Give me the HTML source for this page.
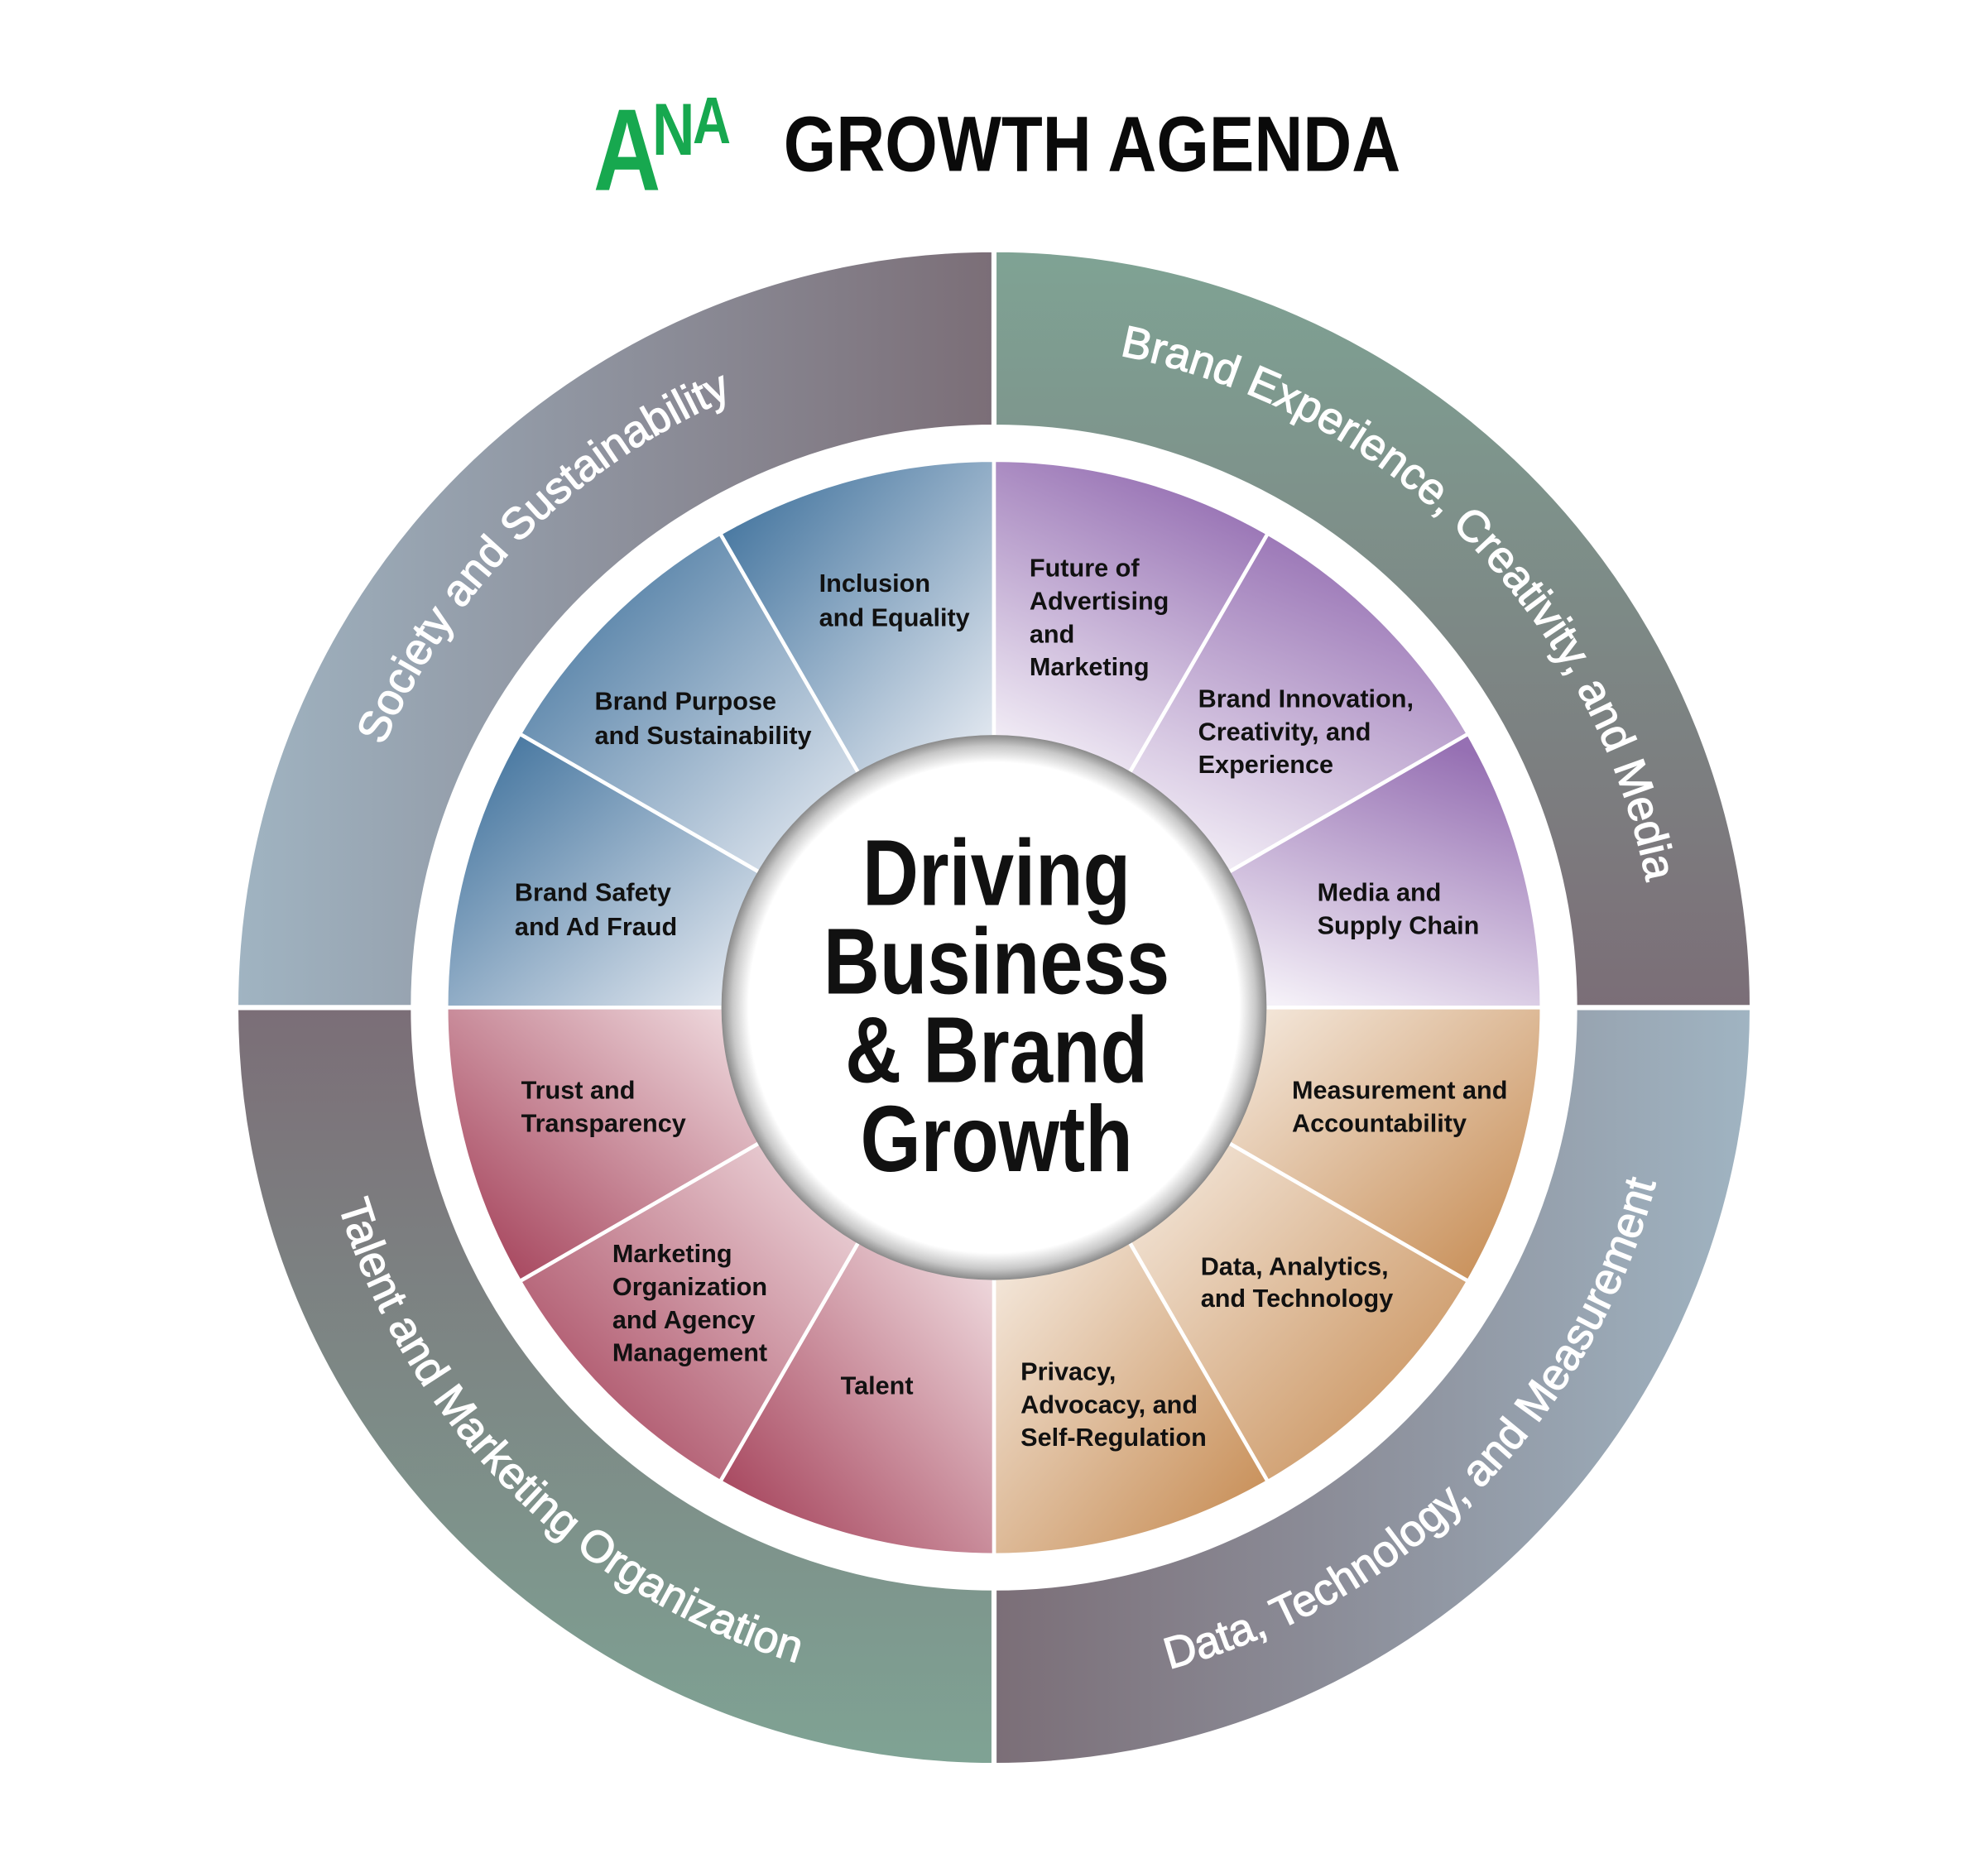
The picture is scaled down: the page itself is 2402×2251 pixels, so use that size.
<!DOCTYPE html>
<html><head><meta charset="utf-8"><style>
html,body{margin:0;padding:0;background:#fff;}
svg{display:block;}
</style></head><body>
<svg width="2402" height="2251" viewBox="0 0 1568 1470" preserveAspectRatio="none" xmlns="http://www.w3.org/2000/svg">
<defs>
<linearGradient id="qTL" x1="0" y1="0" x2="1" y2="0"><stop offset="0" stop-color="#a0b4c2"/><stop offset="1" stop-color="#7b6e77"/></linearGradient>
<linearGradient id="qTR" x1="0" y1="0" x2="0" y2="1"><stop offset="0" stop-color="#7fa394"/><stop offset="1" stop-color="#7b6e77"/></linearGradient>
<linearGradient id="qBL" x1="0" y1="0" x2="0" y2="1"><stop offset="0" stop-color="#7b6e77"/><stop offset="1" stop-color="#7fa394"/></linearGradient>
<linearGradient id="qBR" x1="0" y1="0" x2="1" y2="0"><stop offset="0" stop-color="#7b6e77"/><stop offset="1" stop-color="#a0b4c2"/></linearGradient>
<linearGradient id="gB" x1="0" y1="0" x2="1" y2="1"><stop offset="0" stop-color="#356a97"/><stop offset="1" stop-color="#eceff5"/></linearGradient>
<linearGradient id="gP" x1="0.6" y1="0" x2="0.2" y2="1"><stop offset="0" stop-color="#9670b3"/><stop offset="1" stop-color="#f5f1f8"/></linearGradient>
<linearGradient id="gO" x1="0" y1="0" x2="1" y2="1"><stop offset="0" stop-color="#f6ece2"/><stop offset="1" stop-color="#c4874c"/></linearGradient>
<linearGradient id="gR" x1="1" y1="0" x2="0" y2="1"><stop offset="0" stop-color="#f3e2e5"/><stop offset="1" stop-color="#9f3650"/></linearGradient>
<radialGradient id="gC" cx="0.5" cy="0.5" r="0.5"><stop offset="0.9" stop-color="#ffffff"/><stop offset="0.96" stop-color="#c8c8c8"/><stop offset="1" stop-color="#8a8a8a"/></radialGradient>
<path id="aTL" d="M 277.9 659.4 A 524 524 0 0 1 648.4 288.9"/>
<path id="aTR" d="M 784 271 A 524 524 0 0 1 1308 795"/>
<path id="aBL" d="M 244 795 A 540 540 0 0 0 784 1335"/>
<path id="aBR" d="M 784 1335 A 540 540 0 0 0 1324 795"/>
</defs>

<g stroke="#fff" stroke-width="4">
<path d="M 186 795 A 598 598 0 0 1 784 197 L 784 337 A 458 458 0 0 0 326 795 Z" fill="url(#qTL)"/>
<path d="M 784 197 A 598 598 0 0 1 1382 795 L 1242 795 A 458 458 0 0 0 784 337 Z" fill="url(#qTR)"/>
<path d="M 1382 795 A 598 598 0 0 1 784 1393 L 784 1253 A 458 458 0 0 0 1242 795 Z" fill="url(#qBR)"/>
<path d="M 784 1393 A 598 598 0 0 1 186 795 L 326 795 A 458 458 0 0 0 784 1253 Z" fill="url(#qBL)"/>
</g>

<g stroke="#fff" stroke-width="3">
<path fill="url(#gB)" d="M352.0,795.0 A432,432 0 0 1 409.9,579.0 L602.1,690.0 A210,210 0 0 0 574.0,795.0 Z"/>
<path fill="url(#gB)" d="M409.9,579.0 A432,432 0 0 1 568.0,420.9 L679.0,613.1 A210,210 0 0 0 602.1,690.0 Z"/>
<path fill="url(#gB)" d="M568.0,420.9 A432,432 0 0 1 784.0,363.0 L784.0,585.0 A210,210 0 0 0 679.0,613.1 Z"/>
<path fill="url(#gP)" d="M784.0,363.0 A432,432 0 0 1 1000.0,420.9 L889.0,613.1 A210,210 0 0 0 784.0,585.0 Z"/>
<path fill="url(#gP)" d="M1000.0,420.9 A432,432 0 0 1 1158.1,579.0 L965.9,690.0 A210,210 0 0 0 889.0,613.1 Z"/>
<path fill="url(#gP)" d="M1158.1,579.0 A432,432 0 0 1 1216.0,795.0 L994.0,795.0 A210,210 0 0 0 965.9,690.0 Z"/>
<path fill="url(#gO)" d="M1216.0,795.0 A432,432 0 0 1 1158.1,1011.0 L965.9,900.0 A210,210 0 0 0 994.0,795.0 Z"/>
<path fill="url(#gO)" d="M1158.1,1011.0 A432,432 0 0 1 1000.0,1169.1 L889.0,976.9 A210,210 0 0 0 965.9,900.0 Z"/>
<path fill="url(#gO)" d="M1000.0,1169.1 A432,432 0 0 1 784.0,1227.0 L784.0,1005.0 A210,210 0 0 0 889.0,976.9 Z"/>
<path fill="url(#gR)" d="M784.0,1227.0 A432,432 0 0 1 568.0,1169.1 L679.0,976.9 A210,210 0 0 0 784.0,1005.0 Z"/>
<path fill="url(#gR)" d="M568.0,1169.1 A432,432 0 0 1 409.9,1011.0 L602.1,900.0 A210,210 0 0 0 679.0,976.9 Z"/>
<path fill="url(#gR)" d="M409.9,1011.0 A432,432 0 0 1 352.0,795.0 L574.0,795.0 A210,210 0 0 0 602.1,900.0 Z"/>
</g>

<circle cx="784" cy="795" r="215" fill="url(#gC)"/>

<g fill="#fff" font-family="'Liberation Sans',sans-serif" font-size="35" text-anchor="middle" stroke="#fff" stroke-width="0.8">
<text><textPath href="#aTL" startOffset="50%">Society and Sustainability</textPath></text>
<text><textPath href="#aTR" startOffset="50%">Brand Experience, Creativity, and Media</textPath></text>
<text><textPath href="#aBL" startOffset="50%">Talent and Marketing Organization</textPath></text>
<text><textPath href="#aBR" startOffset="50%">Data, Technology, and Measurement</textPath></text>
</g>

<g fill="#111" font-family="'Liberation Sans',sans-serif" font-weight="bold" font-size="20">
<text x="646" y="467">Inclusion</text><text x="646" y="494">and Equality</text>
<text x="469" y="560">Brand Purpose</text><text x="469" y="587">and Sustainability</text>
<text x="406" y="711">Brand Safety</text><text x="406" y="738">and Ad Fraud</text>
<text x="812" y="455">Future of</text><text x="812" y="481">Advertising</text><text x="812" y="507">and</text><text x="812" y="533">Marketing</text>
<text x="945" y="558">Brand Innovation,</text><text x="945" y="584">Creativity, and</text><text x="945" y="610">Experience</text>
<text x="1039" y="711">Media and</text><text x="1039" y="737">Supply Chain</text>
<text x="1019" y="867">Measurement and</text><text x="1019" y="893">Accountability</text>
<text x="947" y="1006">Data, Analytics,</text><text x="947" y="1031">and Technology</text>
<text x="805" y="1089">Privacy,</text><text x="805" y="1115">Advocacy, and</text><text x="805" y="1141">Self-Regulation</text>
<text x="663" y="1100">Talent</text>
<text x="483" y="996">Marketing</text><text x="483" y="1022">Organization</text><text x="483" y="1048">and Agency</text><text x="483" y="1074">Management</text>
<text x="411" y="867">Trust and</text><text x="411" y="893">Transparency</text>
</g>

<g transform="translate(786,0) scale(0.83,1)" fill="#111" font-family="'Liberation Sans',sans-serif" font-weight="bold" font-size="74" text-anchor="middle">
<text x="0" y="714">Driving</text>
<text x="0" y="784">Business</text>
<text x="0" y="854">&amp; Brand</text>
<text x="0" y="924">Growth</text>
</g>

<g font-family="'Liberation Sans',sans-serif" font-weight="bold">
<g transform="translate(468,0) scale(0.8,1)" fill="#17a84f">
<text x="0" y="150" font-size="92">A</text>
<text x="58" y="122" font-size="58">N</text>
<text x="98" y="113" font-size="52">A</text>
</g>
<text transform="translate(618,0) scale(0.86,1)" x="0" y="135" font-size="62" fill="#0a0a0a">GROWTH AGENDA</text>
</g>
</svg>
</body></html>
